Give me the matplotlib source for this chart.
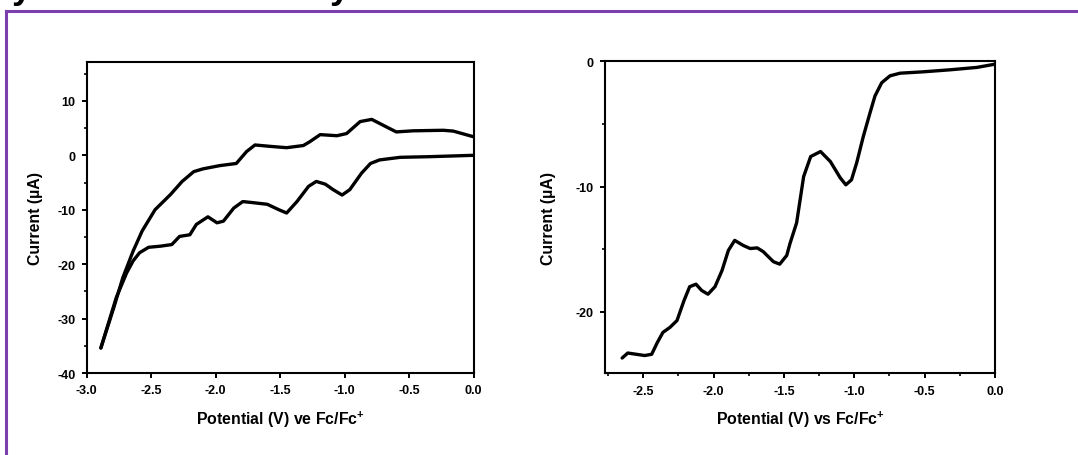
import numpy as np
import matplotlib.pyplot as plt
from matplotlib.ticker import MultipleLocator
from matplotlib.lines import Line2D

plt.rcParams['font.family'] = ['Liberation Sans', 'DejaVu Sans']
plt.rcParams['font.weight'] = 'bold'
plt.rcParams['axes.unicode_minus'] = False
plt.rcParams['mathtext.fontset'] = 'custom'
plt.rcParams['mathtext.rm'] = 'Liberation Sans:bold'
plt.rcParams['mathtext.default'] = 'rm'

# left panel: cyclic voltammogram, forward (cathodic) scan 0 -> -2.9 V
cv_fwd_x = [0.0, -0.34, -0.57, -0.73, -0.80, -0.87, -0.96, -1.02, -1.09, -1.15,
            -1.22, -1.28, -1.37, -1.45, -1.51, -1.60, -1.71, -1.79, -1.86, -1.94,
            -1.99, -2.06, -2.15, -2.20, -2.28, -2.34, -2.43, -2.52, -2.59, -2.64,
            -2.69, -2.77, -2.89]
cv_fwd_y = [0.0, -0.25, -0.37, -0.85, -1.5, -3.3, -6.3, -7.3, -6.3, -5.3,
            -4.8, -5.7, -8.5, -10.6, -10.0, -9.0, -8.7, -8.5, -9.7, -12.1,
            -12.4, -11.3, -12.7, -14.6, -14.9, -16.4, -16.7, -16.9, -17.9, -19.4,
            -21.6, -26.1, -35.4]

# left panel: return (anodic) scan -2.9 -> 0 V
cv_ret_x = [-2.89, -2.79, -2.72, -2.64, -2.57, -2.47, -2.35, -2.26, -2.17, -2.10,
            -1.97, -1.84, -1.76, -1.695, -1.58, -1.45, -1.32, -1.27, -1.19, -1.06,
            -0.985, -0.88, -0.79, -0.675, -0.60, -0.47, -0.236, -0.158, 0.0]
cv_ret_y = [-35.4, -28.0, -22.5, -17.6, -13.9, -10.0, -7.2, -4.8, -3.0, -2.5,
            -1.9, -1.5, 0.7, 1.9, 1.65, 1.4, 1.8, 2.5, 3.8, 3.6,
            4.0, 6.2, 6.6, 5.2, 4.3, 4.5, 4.6, 4.45, 3.4]

# right panel: linear sweep
lsv_x = [0.0, -0.13, -0.32, -0.51, -0.675, -0.746, -0.805, -0.853, -0.888, -0.936,
         -0.983, -1.02, -1.06, -1.10, -1.17, -1.24, -1.31, -1.36, -1.41, -1.457,
         -1.48, -1.53, -1.575, -1.647, -1.69, -1.74, -1.79, -1.85, -1.895, -1.94,
         -1.99, -2.04, -2.085, -2.125, -2.17, -2.21, -2.26, -2.31, -2.36, -2.40,
         -2.44, -2.49, -2.55, -2.61, -2.65]
lsv_y = [-0.22, -0.48, -0.67, -0.83, -0.94, -1.15, -1.7, -2.76, -4.1, -6.0,
         -8.1, -9.46, -9.86, -9.3, -8.0, -7.2, -7.6, -9.2, -12.9, -14.55,
         -15.5, -16.2, -16.0, -15.2, -14.9, -14.95, -14.7, -14.3, -15.1, -16.7,
         -18.0, -18.6, -18.3, -17.8, -18.0, -19.1, -20.7, -21.25, -21.65, -22.46,
         -23.4, -23.5, -23.4, -23.3, -23.7]

xlabel_left = 'Potential (V) ve Fc/Fc$^{+}$'
xlabel_right = 'Potential (V) vs Fc/Fc$^{+}$'
ylabel = 'Current (\u00b5A)'

fig = plt.figure(figsize=(10.78, 4.56), dpi=100)
fig.patch.set_facecolor('white')

ax1 = fig.add_axes([0.0804, 0.1798, 0.359, 0.6827])
ax2 = fig.add_axes([0.5612, 0.1789, 0.3618, 0.6842])

style = dict(color='black', lw=2.4, solid_joinstyle='round', solid_capstyle='round')
ax1.plot(cv_fwd_x, cv_fwd_y, **style)
ax1.plot(cv_ret_x, cv_ret_y, **style)
ax1.set_xlim(-3.0, 0.0)
ax1.set_ylim(-40, 17.2)
ax1.set_xticks(np.arange(-3.0, 0.01, 0.5))
ax1.set_yticks([-40, -30, -20, -10, 0, 10])
ax1.yaxis.set_minor_locator(MultipleLocator(5))

ax2.plot(lsv_x, lsv_y, **style)
ax2.set_xlim(-2.772, 0.0)
ax2.set_ylim(-24.93, 0.0)
ax2.set_xticks(np.arange(-2.5, 0.01, 0.5))
ax2.set_yticks([-20, -10, 0])
ax2.xaxis.set_minor_locator(MultipleLocator(0.25))
ax2.yaxis.set_minor_locator(MultipleLocator(5))

for ax, xl, lp in [(ax1, xlabel_left, 10), (ax2, xlabel_right, 14)]:
    for s in ax.spines.values():
        s.set_linewidth(1.5)
    ax.tick_params(which='major', direction='out', length=3.5, width=1.4,
                   labelsize=9, pad=4.5)
    ax.tick_params(which='minor', direction='out', length=2, width=1.2)
    ax.xaxis.set_major_formatter(plt.FormatStrFormatter('%.1f'))
    ax.set_xlabel(xl, fontsize=11.4, fontweight='bold', labelpad=9)
    ax.set_ylabel(ylabel, fontsize=11.4, fontweight='bold', labelpad=lp)

# purple frame (top and left edge of the slide box)
purple = '#7b3fae'
fig.add_artist(Line2D([6 / 1078, 1.0], [1 - 11.7 / 456, 1 - 11.7 / 456],
                      transform=fig.transFigure, color=purple, lw=2.2))
fig.add_artist(Line2D([6 / 1078, 6 / 1078], [0.0, 1 - 11.7 / 456],
                      transform=fig.transFigure, color=purple, lw=2.2))

# descenders of a cropped title line above the frame
fig.text(12 / 1078, 1 + 2 / 456, 'y', fontsize=26, fontweight='bold', va='baseline', ha='left')
fig.text(330 / 1078, 1 + 2 / 456, 'y', fontsize=26, fontweight='bold', va='baseline', ha='left')

fig.savefig('out.png', dpi=100, facecolor='white')
